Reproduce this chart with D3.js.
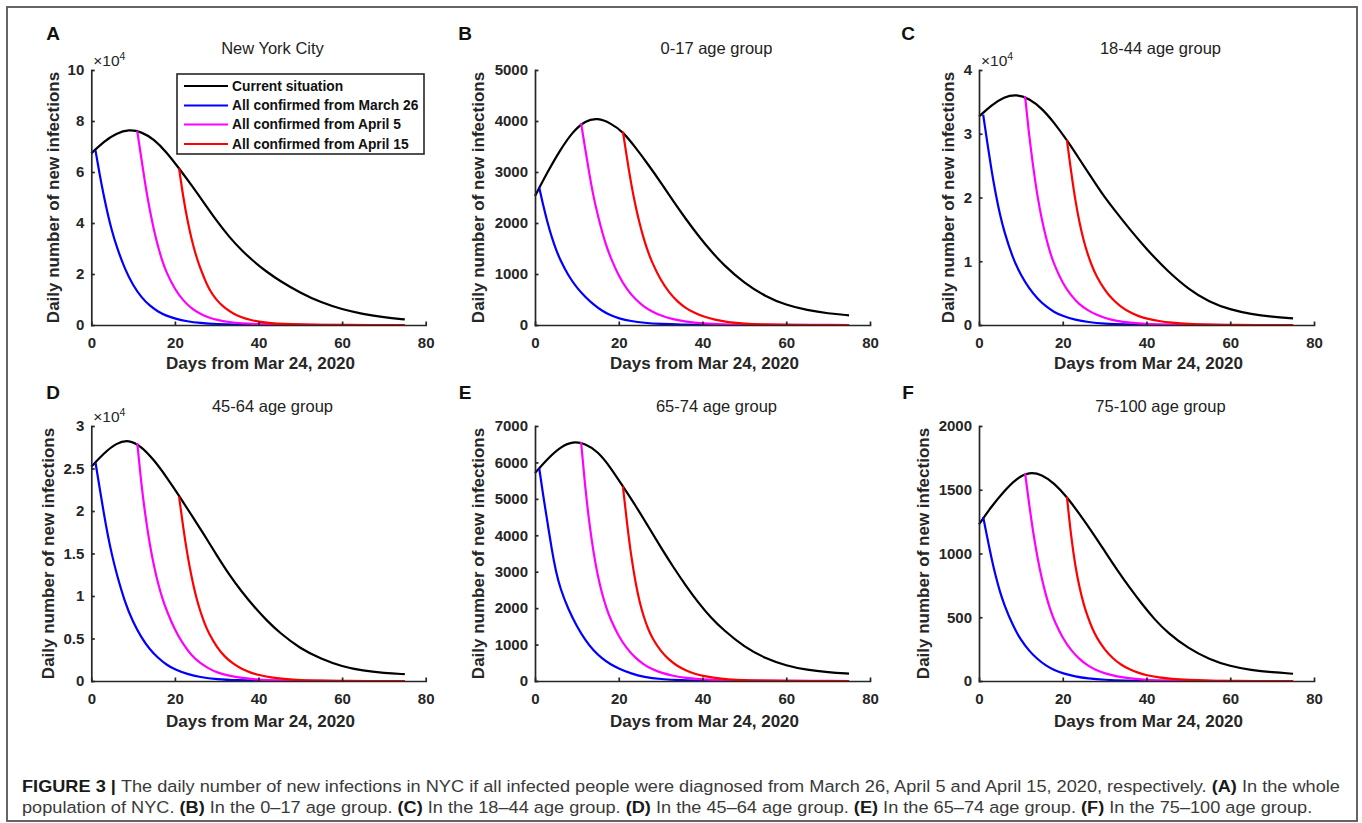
<!DOCTYPE html>
<html lang="en">
<head>
<meta charset="UTF-8">
<title>Daily number of new infections in NYC</title>
<script src="https://d3js.org/d3.v7.min.js"></script>
<style>
  body { margin: 0; background: #fff; }
  svg { display: block; font-family: "Liberation Sans", Arial, Helvetica, sans-serif; }
  .axis .tick text { font-size: 15px; font-weight: bold; fill: #262626; }
  .axis .tick line, .axis .domain { stroke: #262626; stroke-width: 1.7px; }
  .panel-letter { font-size: 19px; font-weight: bold; fill: #111; }
  .title { font-size: 16.5px; fill: #222; }
  .axis-label { font-size: 17px; font-weight: bold; fill: #262626; }
  .expo { font-size: 15.5px; fill: #262626; }
  .legend text { font-size: 13.8px; font-weight: bold; fill: #111; }
  .caption { fill: #3a3a3a; white-space: pre; font-size: 16.7px; }
</style>
</head>
<body>
<svg id="fig" width="1362" height="823"></svg>
<script>
// sample days for each curve (days from Mar 24, 2020)
const daysCurrent = [0, 3, 6, 9, 12, 15, 18, 21, 24, 27, 30, 33, 36, 39, 42, 45, 50, 55, 60, 65, 70, 75];
const daysMar26 = [1, 2, 3, 4, 5, 6, 8, 10, 12, 14, 16, 18, 20, 23, 26, 30, 35, 40, 50, 75];
const daysApr5 = [11, 12, 13, 14, 15, 16, 17, 18, 20, 22, 24, 26, 28, 30, 33, 36, 40, 45, 50, 75];
const daysApr15 = [21, 22, 23, 24, 25, 26, 27, 28, 30, 32, 34, 36, 38, 40, 43, 46, 50, 55, 60, 75];

// A - New York City
const nycCurrent = [67300, 72000, 75200, 76700, 75800, 72800, 67800, 61400, 54800, 47800, 40800, 34500, 29200, 24700, 20800, 17400, 12600, 8800, 6100, 4300, 3000, 2200];
const nycMar26 = [68500, 59000, 50500, 43000, 36500, 31000, 22000, 15500, 10800, 7500, 5200, 3600, 2500, 1400, 800, 350, 120, 40, 0, 0];
const nycApr5 = [76000, 65000, 54000, 45000, 37000, 30500, 25000, 20500, 14000, 9500, 6500, 4400, 3000, 2000, 1100, 600, 300, 100, 0, 0];
const nycApr15 = [61400, 50000, 41000, 33500, 27500, 22500, 18500, 14500, 9500, 6600, 4400, 3000, 2000, 1300, 700, 400, 200, 100, 0, 0];

// B - 0-17
const g0017Current = [2530, 3000, 3430, 3790, 4010, 4060, 3960, 3790, 3480, 3150, 2800, 2430, 2080, 1750, 1450, 1180, 820, 560, 390, 290, 225, 190];
const g0017Mar26 = [2700, 2330, 2000, 1720, 1480, 1280, 960, 730, 550, 400, 280, 190, 130, 75, 42, 20, 8, 3, 0, 0];
const g0017Apr5 = [3960, 3450, 2950, 2500, 2150, 1830, 1560, 1330, 960, 690, 500, 360, 260, 185, 110, 65, 30, 12, 5, 0];
const g0017Apr15 = [3790, 3250, 2750, 2330, 1980, 1680, 1430, 1220, 880, 640, 460, 330, 240, 170, 100, 55, 25, 10, 0, 0];

// C - 18-44
const g1844Current = [32700, 34500, 35800, 36200, 35500, 34000, 31700, 29000, 26000, 23000, 20000, 17500, 15000, 12700, 10500, 8500, 5600, 3600, 2400, 1700, 1300, 1050];
const g1844Mar26 = [33000, 28500, 24200, 20500, 17300, 14700, 10600, 7800, 5700, 4100, 2900, 2000, 1400, 800, 450, 200, 100, 30, 0, 0];
const g1844Apr5 = [35900, 29500, 24500, 20000, 16500, 13700, 11300, 9400, 6500, 4600, 3200, 2300, 1600, 1100, 600, 350, 150, 50, 0, 0];
const g1844Apr15 = [29000, 24000, 19500, 16000, 13200, 11000, 9200, 7700, 5500, 3900, 2800, 2000, 1400, 1000, 600, 350, 150, 50, 0, 0];

// D - 45-64
const g4564Current = [25200, 26800, 28000, 28400, 27600, 26000, 24000, 21800, 19500, 17200, 14800, 12500, 10500, 8700, 7100, 5700, 3800, 2600, 1700, 1200, 950, 800];
const g4564Mar26 = [25700, 22700, 19700, 17000, 14700, 12700, 9300, 6900, 5100, 3700, 2700, 1900, 1350, 800, 450, 200, 80, 30, 0, 0];
const g4564Apr5 = [28000, 23000, 19200, 16000, 13500, 11400, 9700, 8300, 6000, 4300, 3000, 2100, 1500, 1000, 600, 350, 150, 50, 0, 0];
const g4564Apr15 = [21700, 18000, 14800, 12200, 10000, 8300, 6900, 5700, 4000, 2800, 2000, 1400, 1000, 700, 400, 250, 100, 40, 0, 0];

// E - 65-74
const g6574Current = [5710, 6100, 6420, 6580, 6520, 6300, 5870, 5340, 4820, 4250, 3680, 3130, 2620, 2150, 1740, 1400, 930, 620, 420, 300, 240, 200];
const g6574Mar26 = [5850, 5050, 4350, 3600, 3000, 2550, 1950, 1500, 1120, 830, 620, 460, 340, 200, 110, 50, 18, 6, 0, 0];
const g6574Apr5 = [6560, 5300, 4300, 3500, 2880, 2400, 2020, 1700, 1220, 880, 630, 450, 320, 230, 140, 80, 40, 15, 5, 0];
const g6574Apr15 = [5340, 4300, 3400, 2700, 2150, 1750, 1430, 1180, 820, 580, 410, 290, 200, 140, 80, 45, 20, 8, 0, 0];

// F - 75-100
const g75100Current = [1229, 1370, 1490, 1590, 1640, 1620, 1550, 1443, 1310, 1170, 1020, 870, 730, 600, 480, 380, 255, 170, 115, 85, 68, 57];
const g75100Mar26 = [1286, 1120, 960, 820, 700, 600, 440, 320, 235, 170, 120, 85, 60, 35, 20, 9, 3, 1, 0, 0];
const g75100Apr5 = [1631, 1380, 1150, 960, 800, 670, 560, 470, 335, 240, 170, 120, 85, 60, 35, 20, 8, 3, 0, 0];
const g75100Apr15 = [1443, 1130, 900, 730, 600, 500, 415, 345, 245, 175, 125, 90, 65, 45, 28, 16, 8, 3, 0, 0];

// tick values
const xTicks = [0, 20, 40, 60, 80];
const nycTicks = [0, 20000, 40000, 60000, 80000, 100000];
const g0017Ticks = [0, 1000, 2000, 3000, 4000, 5000];
const g1844Ticks = [0, 10000, 20000, 30000, 40000];
const g4564Ticks = [0, 5000, 10000, 15000, 20000, 25000, 30000];
const g6574Ticks = [0, 1000, 2000, 3000, 4000, 5000, 6000, 7000];
const g75100Ticks = [0, 500, 1000, 1500, 2000];

const seriesNames = ["Current situation", "All confirmed from March 26", "All confirmed from April 5", "All confirmed from April 15"];
const seriesColors = ["#000000", "#0000ff", "#ff00ff", "#ff0000"];
const seriesDays = [daysCurrent, daysMar26, daysApr5, daysApr15];

const panels = [
  { letter: "A", title: "New York City", series: [nycCurrent, nycMar26, nycApr5, nycApr15], ticks: nycTicks, expo: true, col: 0, row: 0 },
  { letter: "B", title: "0-17 age group", series: [g0017Current, g0017Mar26, g0017Apr5, g0017Apr15], ticks: g0017Ticks, expo: false, col: 1, row: 0 },
  { letter: "C", title: "18-44 age group", series: [g1844Current, g1844Mar26, g1844Apr5, g1844Apr15], ticks: g1844Ticks, expo: true, col: 2, row: 0 },
  { letter: "D", title: "45-64 age group", series: [g4564Current, g4564Mar26, g4564Apr5, g4564Apr15], ticks: g4564Ticks, expo: true, col: 0, row: 1 },
  { letter: "E", title: "65-74 age group", series: [g6574Current, g6574Mar26, g6574Apr5, g6574Apr15], ticks: g6574Ticks, expo: false, col: 1, row: 1 },
  { letter: "F", title: "75-100 age group", series: [g75100Current, g75100Mar26, g75100Apr5, g75100Apr15], ticks: g75100Ticks, expo: false, col: 2, row: 1 }
];

// layout (pixels)
const colLeft = [91.3, 535, 979], colRight = [425.7, 870, 1314];
const rowTop = [70, 426], rowBottom = [325, 681];
const letterX = [53, 465, 908], letterY = [39.5, 398.5];
const titleY = [53.5, 412];
const yLabelX = [[53, 478, 948], [48, 478, 923]];
const xLabelY = [363, 721];

const svg = d3.select("#fig");

// outer frame
svg.append("rect")
  .attr("x", 7).attr("y", 7)
  .attr("width", 1350).attr("height", 814)
  .attr("fill", "none")
  .attr("stroke", "#555")
  .attr("stroke-width", 1.8);

panels.forEach(p => {
  const x0 = colLeft[p.col], x1 = colRight[p.col];
  const yT = rowTop[p.row], yB = rowBottom[p.row];
  const yMax = p.ticks[p.ticks.length - 1];

  const x = d3.scaleLinear().domain([0, 80]).range([x0, x1]);
  const y = d3.scaleLinear().domain([0, yMax]).range([yB, yT]);

  const g = svg.append("g");

  // curves
  const line = d3.line()
    .x(d => x(d[0]))
    .y(d => y(d[1]))
    .curve(d3.curveBasis);

  p.series.forEach((vals, i) => {
    g.append("path")
      .datum(d3.zip(seriesDays[i], vals))
      .attr("d", line)
      .attr("fill", "none")
      .attr("stroke", seriesColors[i])
      .attr("stroke-width", 2.2)
      .attr("stroke-linejoin", "round");
  });

  // axes, ticks pointing inward like matlab
  const fmt = p.expo ? (d => String(d / 10000)) : (d => String(d));
  g.append("g")
    .attr("class", "axis")
    .attr("transform", `translate(${x0},0)`)
    .call(d3.axisLeft(y).tickValues(p.ticks).tickFormat(fmt).tickSizeInner(-3.5).tickSizeOuter(0).tickPadding(7));

  g.append("g")
    .attr("class", "axis")
    .attr("transform", `translate(0,${yB})`)
    .call(d3.axisBottom(x).tickValues(xTicks).tickSizeInner(-3.5).tickSizeOuter(0).tickPadding(12));

  g.selectAll(".axis .domain").attr("stroke-linecap", "square");

  // exponent label
  if (p.expo) {
    const t = g.append("text")
      .attr("class", "expo")
      .attr("x", x0 + 2)
      .attr("y", yT - 4);
    t.append("tspan").text("\u00d710");
    t.append("tspan").attr("dy", -6).style("font-size", "10.5px").text("4");
  }

  // panel letter and title
  g.append("text")
    .attr("class", "panel-letter")
    .attr("x", letterX[p.col])
    .attr("y", letterY[p.row])
    .attr("text-anchor", "middle")
    .text(p.letter);

  g.append("text")
    .attr("class", "title")
    .attr("x", (x0 + x1) / 2 + 14)
    .attr("y", titleY[p.row])
    .attr("text-anchor", "middle")
    .text(p.title);

  // axis labels
  g.append("text")
    .attr("class", "axis-label")
    .attr("text-anchor", "middle")
    .attr("dy", "0.35em")
    .attr("transform", `translate(${yLabelX[p.row][p.col]},${(yT + yB) / 2}) rotate(-90)`)
    .text("Daily number of new infections");

  g.append("text")
    .attr("class", "axis-label")
    .attr("text-anchor", "middle")
    .attr("dy", "0.35em")
    .attr("x", (x0 + x1) / 2 + 2)
    .attr("y", xLabelY[p.row])
    .text("Days from Mar 24, 2020");
});

// legend (panel A)
const legend = svg.append("g").attr("class", "legend");
legend.append("rect")
  .attr("x", 177).attr("y", 74)
  .attr("width", 247).attr("height", 80)
  .attr("fill", "#fff")
  .attr("stroke", "#262626")
  .attr("stroke-width", 1.6);

const legendRowY = [86, 105.5, 124.5, 144];
seriesNames.forEach((name, i) => {
  legend.append("line")
    .attr("x1", 184).attr("x2", 228)
    .attr("y1", legendRowY[i]).attr("y2", legendRowY[i])
    .attr("stroke", seriesColors[i])
    .attr("stroke-width", 2.2);
  legend.append("text")
    .attr("x", 232)
    .attr("y", legendRowY[i])
    .attr("dy", "0.36em")
    .text(name);
});

// caption
const captionLines = [
  [["FIGURE 3 | ", true], ["The daily number of new infections in NYC if all infected people were diagnosed from March 26, April 5 and April 15, 2020, respectively. ", false], ["(A)", true], [" In the whole", false]],
  [["population of NYC. ", false], ["(B)", true], [" In the 0\u201317 age group. ", false], ["(C)", true], [" In the 18\u201344 age group. ", false], ["(D)", true], [" In the 45\u201364 age group. ", false], ["(E)", true], [" In the 65\u201374 age group. ", false], ["(F)", true], [" In the 75\u2013100 age group.", false]]
];
const captionY = [792, 813];

const capTexts = captionLines.map((parts, li) => {
  const t = svg.append("text")
    .attr("class", "caption")
    .attr("x", 0)
    .attr("y", 0);
  parts.forEach(([s, b]) => {
    t.append("tspan")
      .style("font-weight", b ? "bold" : "normal")
      .style("fill", b ? "#1a1a1a" : null)
      .text(s);
  });
  return t;
});

// the caption face is condensed: squeeze the first line to its width in the figure
const sx = 1318 / capTexts[0].node().getComputedTextLength();
capTexts.forEach((t, li) => t.attr("transform", `translate(22,${captionY[li]}) scale(${sx},1)`));
</script>
</body>
</html>
